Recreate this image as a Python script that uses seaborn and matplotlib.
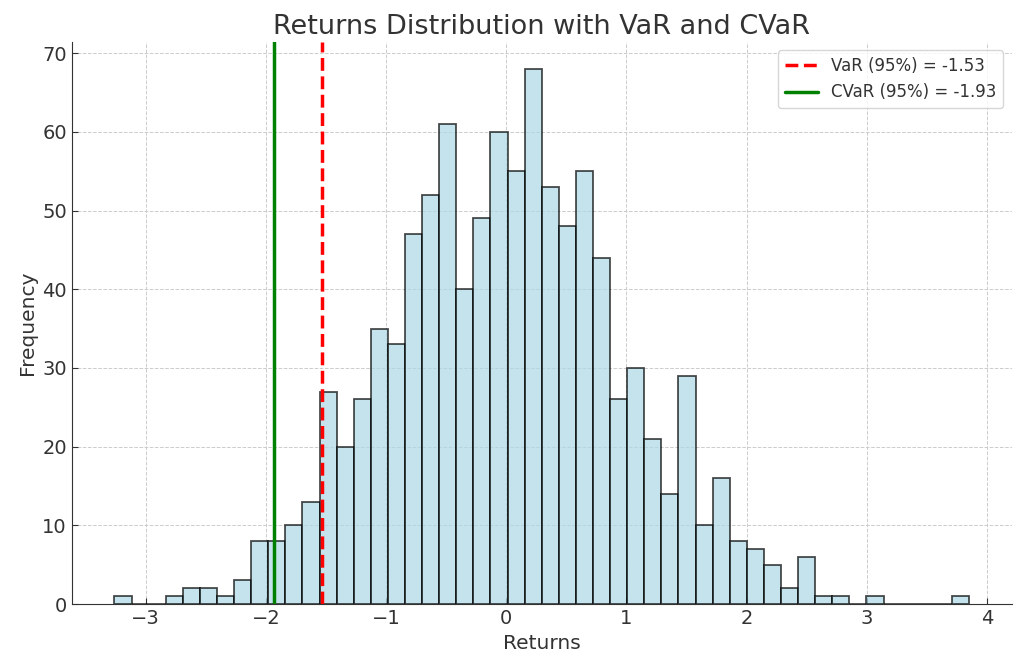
import numpy as np
import pandas as pd
import seaborn as sns
import matplotlib.pyplot as plt

# histogram of returns (50 bins)
bin_min = -3.26
bin_max = 3.85
counts = [1, 0, 0, 1, 2, 2, 1, 3, 8, 8,
          10, 13, 27, 20, 26, 35, 33, 47, 52, 61,
          40, 49, 60, 55, 68, 53, 48, 55, 44, 26,
          30, 21, 14, 29, 10, 16, 8, 7, 5, 2,
          6, 1, 1, 0, 1, 0, 0, 0, 0, 1]
var_95 = -1.53
cvar_95 = -1.93

edges = np.linspace(bin_min, bin_max, len(counts) + 1)
centers = (edges[:-1] + edges[1:]) / 2
df = pd.DataFrame({'returns': centers, 'count': counts})

sns.set_style('ticks')
plt.rcParams['text.color'] = '#333333'
plt.rcParams['axes.labelcolor'] = '#333333'
plt.rcParams['axes.edgecolor'] = '#333333'
plt.rcParams['xtick.color'] = '#333333'
plt.rcParams['ytick.color'] = '#333333'

fig, ax = plt.subplots(figsize=(10.24, 6.69), dpi=100)
sns.histplot(data=df, x='returns', weights='count', bins=list(edges),
             color='lightblue', edgecolor=(0, 0, 0, 0.7), alpha=0.7,
             linewidth=1.3, ax=ax)

ax.axvline(var_95, color='red', linestyle='--', linewidth=2.5,
           label=f'VaR (95%) = {var_95:.2f}')
ax.axvline(cvar_95, color='green', linestyle='-', linewidth=2.5,
           label=f'CVaR (95%) = {cvar_95:.2f}')

ax.set_title('Returns Distribution with VaR and CVaR', fontsize=19.5)
ax.set_xlabel('Returns', fontsize=14.5)
ax.set_ylabel('Frequency', fontsize=14.5)
ax.tick_params(labelsize=14, direction='in', length=4)
ax.grid(True, linestyle='--', color='#cccccc', linewidth=0.7)
ax.set_axisbelow(True)
sns.despine(ax=ax)
ax.legend(loc='upper right', fontsize=12)

plt.subplots_adjust(left=0.070, right=0.988, top=0.937, bottom=0.097)
plt.savefig('out.png', dpi=100)
